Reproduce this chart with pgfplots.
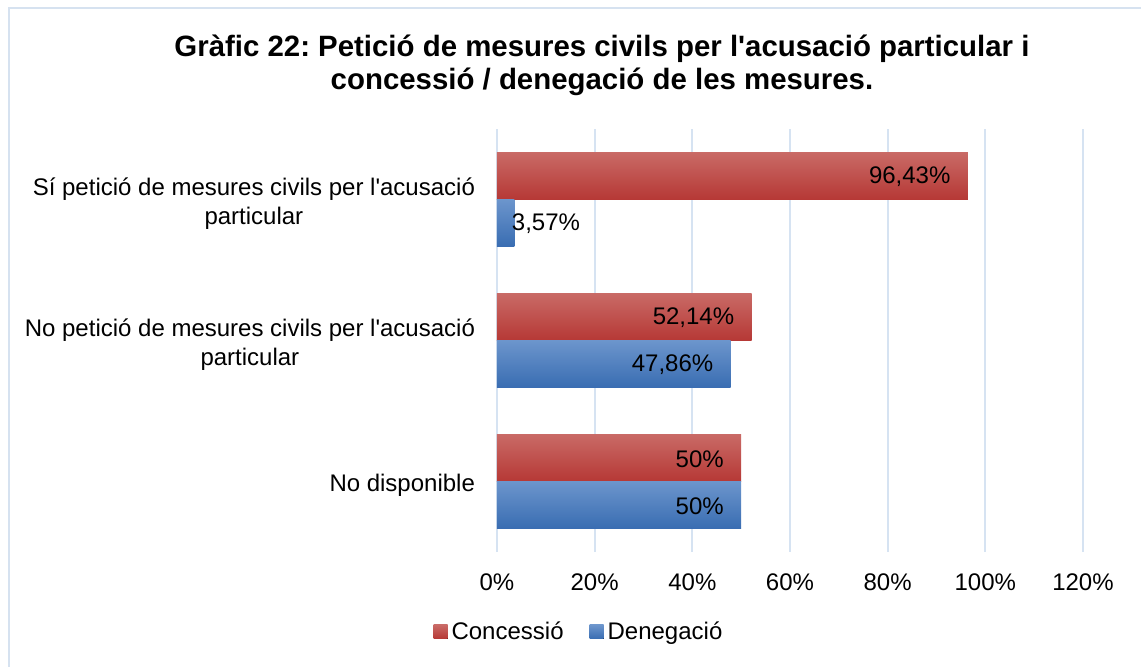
\documentclass[border=0pt]{standalone}
\usepackage{pgfplots}
\pgfplotsset{compat=1.18}
\usepackage{fontspec}
\setmainfont{Liberation Sans}[Ligatures=TeXOff]
\definecolor{redtop}{RGB}{201,106,102}
\definecolor{redbot}{RGB}{182,56,53}
\definecolor{bluetop}{RGB}{108,149,204}
\definecolor{bluebot}{RGB}{57,109,178}
\definecolor{gridc}{RGB}{214,227,242}
\definecolor{framec}{RGB}{214,226,240}
\frenchspacing
\begin{document}
\begin{tikzpicture}
\useasboundingbox (0,0) rectangle (570.5pt,333pt);
\draw[framec, line width=1pt] (4.25pt,-10pt) -- (4.25pt,329pt) -- (600pt,329pt);
\node[align=center, font=\fontsize{14.7}{16.5}\selectfont\bfseries] at (301pt,300.25pt)
  {Gràfic 22: Petició de mesures civils per l'acusació particular i\\concessió / denegació de les mesures.};
\begin{axis}[
  at={(248.5pt,57pt)}, anchor=south west,
  scale only axis, width=293pt, height=211.5pt,
  xbar, bar width=23.5pt,
  xmin=0, xmax=120, ymin=-0.5, ymax=2.5,
  axis line style={draw=none},
  xmajorgrids, grid style={gridc, line width=1pt},
  xtick={0,20,40,60,80,100,120},
  xticklabels={0\%,20\%,40\%,60\%,80\%,100\%,120\%},
  xticklabel style={font=\fontsize{12}{14}\selectfont, yshift=-7.5pt},
  ytick={0,1,2},
  yticklabels={No disponible,{No petició de mesures civils per l'acusació\\particular},{Sí petició de mesures civils per l'acusació\\particular}},
  yticklabel style={align=center, font=\fontsize{12}{14.5}\selectfont, xshift=-7.5pt, yshift=-2pt},
  major tick length=0pt,
  clip=false,
  every node near coord/.style={anchor=east, xshift=-5.2pt, yshift=-0.5pt, font=\fontsize{12}{14}\selectfont, text=black},
  redbar/.style={draw=none, top color=redtop, bottom color=redbot, bar shift=0pt},
  bluebar/.style={draw=none, top color=bluetop, bottom color=bluebot, bar shift=0pt},
  legend style={at={(0.1416,-0.189)}, anchor=center, legend columns=2, draw=none, fill=none,
    font=\fontsize{12}{14}\selectfont, /tikz/every even column/.append style={column sep=11pt}},
  legend image code/.code={\fill[#1] (1.5pt,-3.5pt) rectangle (8.5pt,3.5pt);},
]
\addplot[redbar, nodes near coords={96,43\%}] coordinates {(96.43,2.16667)};
\addlegendentry{Concessió}
\addplot[bluebar, nodes near coords={3,57\%}, every node near coord/.append style={xshift=41.5pt}] coordinates {(3.57,1.83333)};
\addlegendentry{Denegació}
\addplot[redbar, forget plot, nodes near coords={52,14\%}] coordinates {(52.14,1.16667)};
\addplot[bluebar, forget plot, nodes near coords={47,86\%}] coordinates {(47.86,0.83333)};
\addplot[redbar, forget plot, nodes near coords={50\%}] coordinates {(50,0.16667)};
\addplot[bluebar, forget plot, nodes near coords={50\%}] coordinates {(50,-0.16667)};
\end{axis}
\end{tikzpicture}
\end{document}
